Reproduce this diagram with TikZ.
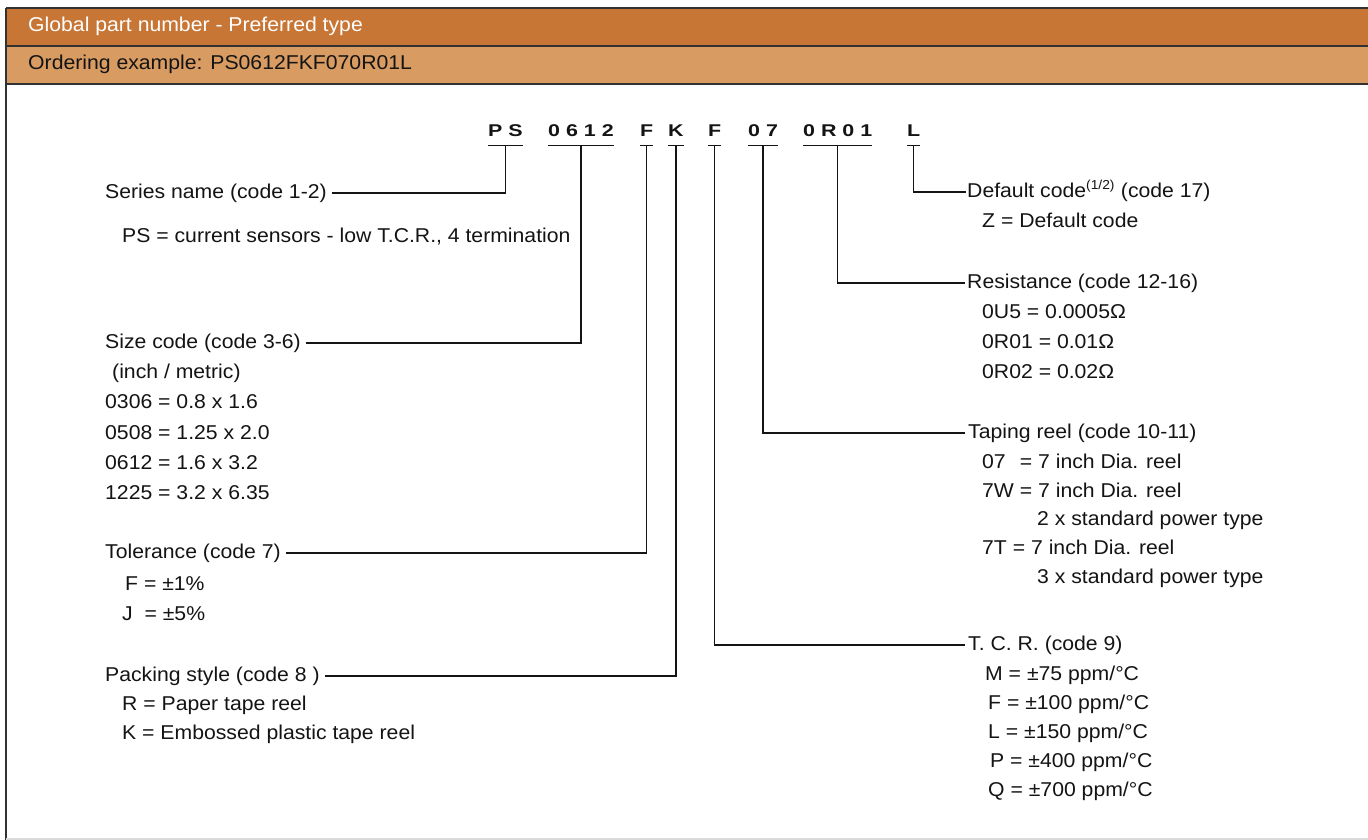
\documentclass[tikz,border=0pt]{standalone}
\usepackage{fontspec}
\setmainfont{Liberation Sans}[FakeStretch=1.06]
\newfontfamily\codefont{Liberation Sans}[FakeStretch=1.26]
\definecolor{hdark}{RGB}{199,118,53}
\definecolor{hlight}{RGB}{216,155,98}
\definecolor{txt}{RGB}{20,20,20}
\definecolor{frame}{RGB}{50,50,50}
\tikzset{
  lbl/.style={anchor=west, inner sep=0pt, text height=15pt, text depth=5pt,
    font=\fontsize{20}{24}\selectfont, text=txt},
  codebox/.style={anchor=base west, inner sep=0pt, text depth=8pt,
    font=\codefont\bfseries\fontsize{17}{20}\selectfont, text=txt},
  uline/.style={draw=txt, line width=1.2pt},
  conn/.style={draw=txt, line width=1.2pt},
}
\begin{document}
\begin{tikzpicture}[x=1pt,y=-1pt]
\useasboundingbox (0,0) rectangle (1368,840);
\fill[white] (0,0) rectangle (1368,840);
% header
\fill[hdark] (6,8) rectangle (1368,46);
\fill[hlight] (6,46) rectangle (1368,84);
\draw[frame, line width=1.5pt] (6,8) -- (1368,8);
\draw[frame, line width=1.2pt] (6,46) -- (1368,46);
\draw[frame, line width=1.2pt] (6,84) -- (1368,84);
\draw[frame, line width=1.5pt] (6,8) -- (6,840);
\draw[black!15, line width=1.2pt] (6,839) -- (1368,839);
\node[lbl, text=white] (h1) at (28,27) {Global part number - Preferred type};
\node[lbl] (h2) at (28,65) {Ordering example: PS0612FKF070R01L};

% code letters
\node[codebox] (ps) at (488,137) {P S};
\node[codebox] (size) at (548,137) {0 6 1 2};
\node[codebox] (tol) at (640,137) {F};
\node[codebox] (pack) at (668,137) {K};
\node[codebox] (tcr) at (708,137) {F};
\node[codebox] (tape) at (748,137) {0 7};
\node[codebox] (res) at (803,137) {0 R 0 1};
\node[codebox] (def) at (907,137) {L};
\foreach \n in {ps,size,tol,pack,tcr,tape,res,def}
  \draw[uline] (\n.south west) -- (\n.south east);

% left column
\node[lbl] (series) at (105,193) {Series name (code 1-2)};
\node[lbl] (seriesA) at (122,237) {PS = current sensors - low T.C.R., 4 termination};

\node[lbl] (sizel) at (105,343) {Size code (code 3-6)};
\node[lbl] (sizeA) at (112,373) {(inch / metric)};
\node[lbl] (sizeB) at (105,403) {0306 = 0.8 x 1.6};
\node[lbl] (sizeC) at (105,434) {0508 = 1.25 x 2.0};
\node[lbl] (sizeD) at (105,464) {0612 = 1.6 x 3.2};
\node[lbl] (sizeE) at (105,494) {1225 = 3.2 x 6.35};

\node[lbl] (toll) at (105,553) {Tolerance (code 7)};
\node[lbl] (tolA) at (125,585) {F = ±1\%};
\node[lbl] (tolB) at (122,615) {J\ \ = ±5\%};

\node[lbl] (packl) at (105,676) {Packing style (code 8 )};
\node[lbl] (packA) at (122,705) {R = Paper tape reel};
\node[lbl] (packB) at (122,734) {K = Embossed plastic tape reel};

% right column
\node[lbl] (defl) at (967,192) {Default code\textsuperscript{\fontsize{13}{14}\selectfont(1/2)} (code 17)};
\node[lbl] (defA) at (982,222) {Z = Default code};

\node[lbl] (resl) at (967,283) {Resistance (code 12-16)};
\node[lbl] (resA) at (982,313) {0U5 = 0.0005Ω};
\node[lbl] (resB) at (982,343) {0R01 = 0.01Ω};
\node[lbl] (resC) at (982,373) {0R02 = 0.02Ω};

\node[lbl] (tapel) at (968,433) {Taping reel (code 10-11)};
\node[lbl] (tapeA) at (982,463) {\rlap{07}\phantom{7W} = 7 inch Dia. reel};
\node[lbl] (tapeB) at (982,492) {7W = 7 inch Dia. reel};
\node[lbl] (tapeC) at (1037,520) {2 x standard power type};
\node[lbl] (tapeD) at (982,549) {7T = 7 inch Dia. reel};
\node[lbl] (tapeE) at (1037,578) {3 x standard power type};

\node[lbl] (tcrl) at (968,645) {T. C. R. (code 9)};
\node[lbl] (tcrA) at (985,675) {M = ±75 ppm/°C};
\node[lbl] (tcrB) at (988,704) {F = ±100 ppm/°C};
\node[lbl] (tcrC) at (988,733) {L = ±150 ppm/°C};
\node[lbl] (tcrD) at (990,762) {P = ±400 ppm/°C};
\node[lbl] (tcrE) at (988,791) {Q = ±700 ppm/°C};

% connectors
\draw[conn] (ps.south) |- ([xshift=5pt]series.east);
\draw[conn] (size.south) |- ([xshift=5pt]sizel.east);
\draw[conn] (tol.south) |- ([xshift=5pt]toll.east);
\draw[conn] (pack.south) |- ([xshift=5pt]packl.east);
\draw[conn] (tcr.south) |- ([xshift=-3pt]tcrl.west);
\draw[conn] (tape.south) |- ([xshift=-3pt]tapel.west);
\draw[conn] (res.south) |- ([xshift=-2pt]resl.west);
\draw[conn] (def.south) |- ([xshift=-1pt]defl.west);
\end{tikzpicture}
\end{document}
